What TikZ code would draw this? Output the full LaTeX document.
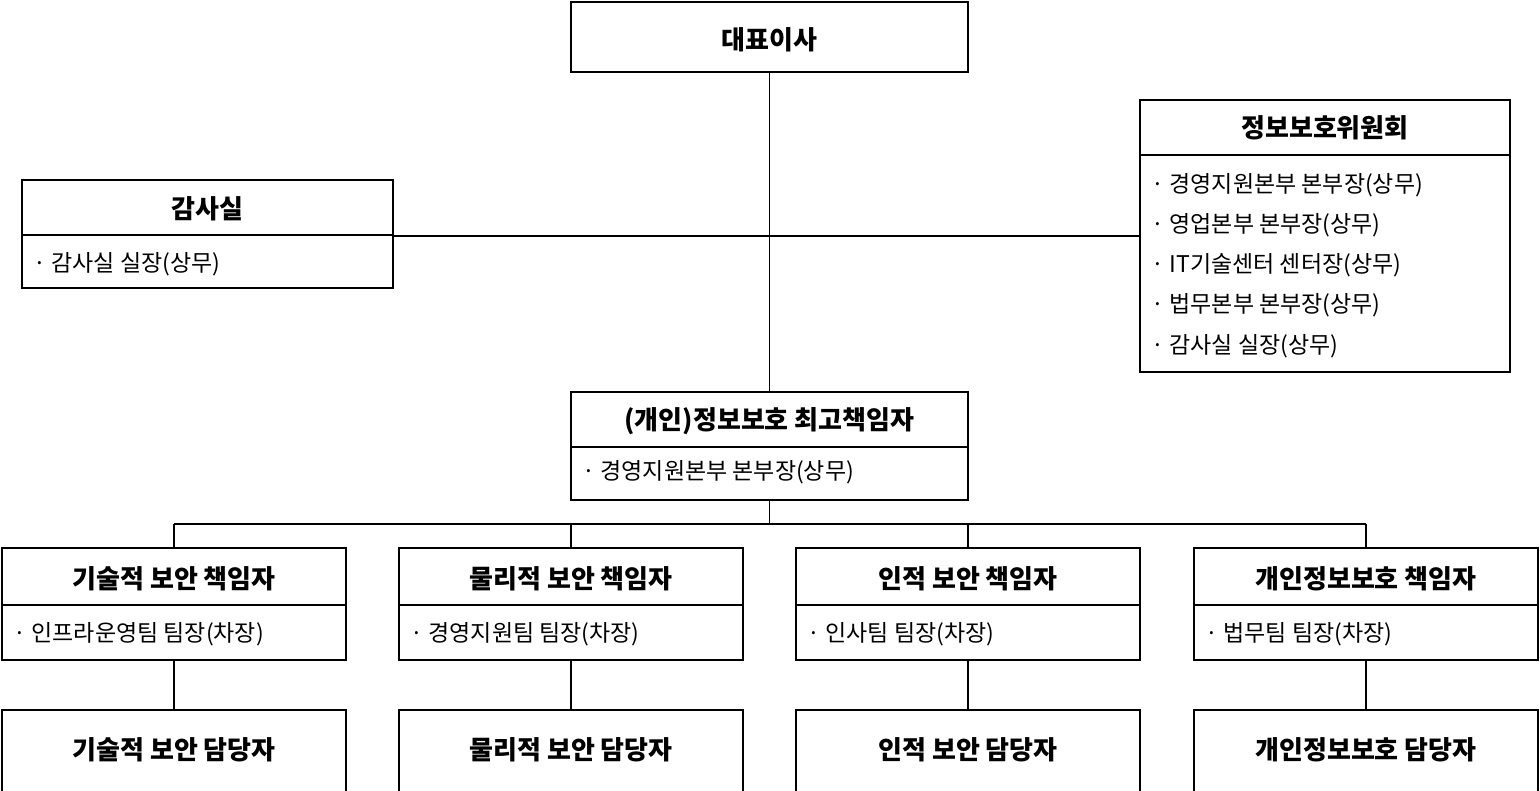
\documentclass[tikz,border=0pt]{standalone}
\usepackage{fontspec}
\setmainfont{Noto Sans CJK KR}
\begin{document}
\begin{tikzpicture}[x=1pt,y=-1pt,
  box/.style={draw,line width=1.3pt,inner sep=0pt,anchor=north west},
  hd/.style={font=\fontsize{26}{30}\selectfont\bfseries},
  it/.style={font=\fontsize{23}{27}\selectfont,anchor=west},
  ln/.style={line width=1.3pt}]
\useasboundingbox (0,0) rectangle (1540,791);
\fill[white] (0,0) rectangle (1540,791);
\spaceskip=0.45em plus 0.1em
% CEO
\draw[ln] (571,2) rectangle (968,72);
\node[hd] (ceo) at (769.5,40) {대표이사};
\coordinate (ceoB) at (769.5,72);
% audit
\draw[ln] (22,180) rectangle (393,288); \draw[ln] (22,235)--(393,235);
\node[hd] (aud) at (207.5,209) {감사실};
\node[it] at (30,264) {· 감사실 실장(상무)};
\coordinate (audR) at (393,236);
% committee
\draw[ln] (1140,100) rectangle (1510,372); \draw[ln] (1140,155)--(1510,155);
\node[hd] (com) at (1325,128) {정보보호위원회};
\node[it] at (1148,185) {· 경영지원본부 본부장(상무)};
\node[it] at (1148,225) {· 영업본부 본부장(상무)};
\node[it] at (1148,265) {· IT기술센터 센터장(상무)};
\node[it] at (1148,305) {· 법무본부 본부장(상무)};
\node[it] at (1148,346) {· 감사실 실장(상무)};
\coordinate (comL) at (1140,236);
% CPO
\draw[ln] (571,392) rectangle (968,500); \draw[ln] (571,447)--(968,447);
\node[hd] (cpo) at (769.5,421) {(개인)정보보호 최고책임자};
\node[it] at (579,472) {· 경영지원본부 본부장(상무)};
\coordinate (cpoT) at (769.5,392);
\coordinate (cpoB) at (769.5,500);
\coordinate (bus) at (769.5,524);
\draw[ln] (ceoB)--(cpoT);
\draw[ln] (audR)--(comL);
\draw[ln] (cpoB)--(bus);
\draw[ln] (174,524)--(1366,524);
% lower boxes
\foreach \x/\h/\s/\b [count=\i] in {2/기술적 보안 책임자/인프라운영팀 팀장(차장)/기술적 보안 담당자,
  399/물리적 보안 책임자/경영지원팀 팀장(차장)/물리적 보안 담당자,
  796/인적 보안 책임자/인사팀 팀장(차장)/인적 보안 담당자,
  1194/개인정보보호 책임자/법무팀 팀장(차장)/개인정보보호 담당자}{
  \draw[ln] (\x,548) rectangle (\x+344,660); \draw[ln] (\x,605)--(\x+344,605);
  \node[hd] (m\i) at (\x+172,579) {\h};
  \node[it] at (\x+8,634) {· \s};
  \draw[ln] (\x,710) rectangle (\x+344,800);
  \node[hd] (d\i) at (\x+172,750) {\b};
  \coordinate (mt\i) at (\x+172,548);
  \coordinate (mb\i) at (\x+172,660);
  \coordinate (dt\i) at (\x+172,710);
  \draw[ln] (\x+172,524)--(mt\i);
  \draw[ln] (mb\i)--(dt\i);
}
\end{tikzpicture}
\end{document}
